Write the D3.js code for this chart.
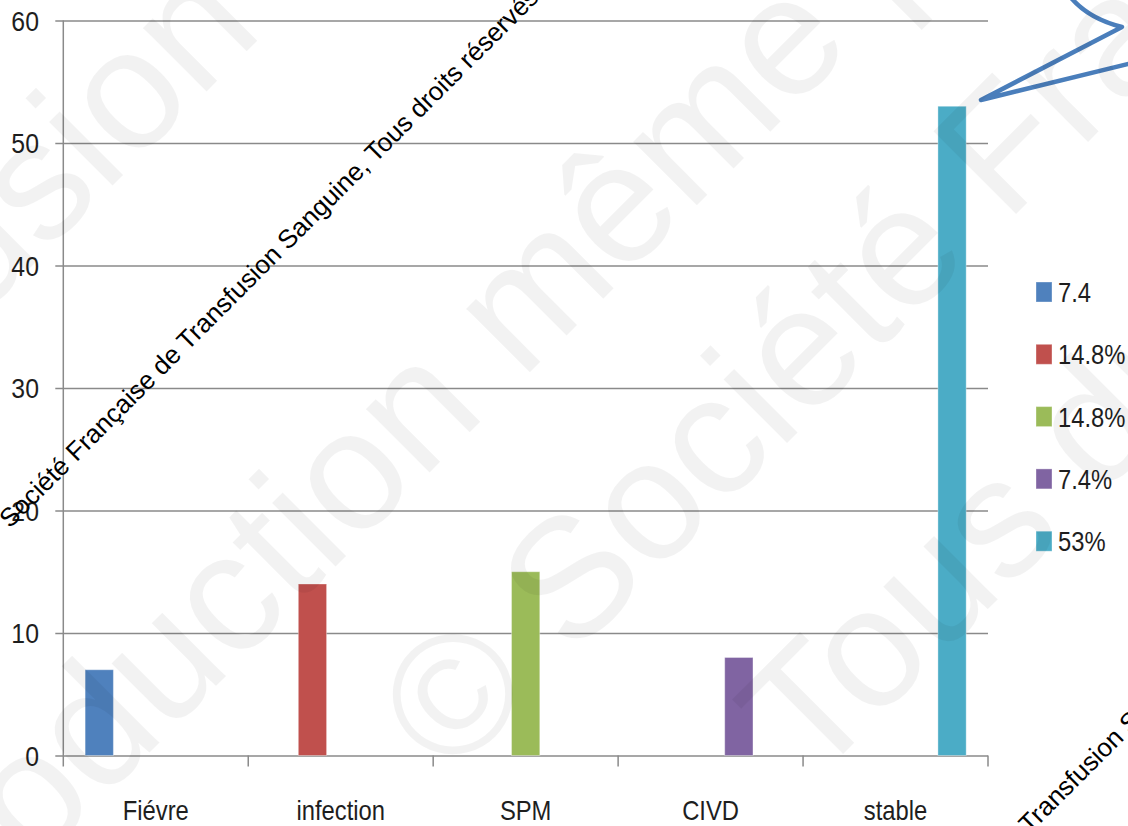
<!DOCTYPE html>
<html>
<head>
<meta charset="utf-8">
<script src="https://cdn.jsdelivr.net/npm/d3@7"></script>
<style>
  html, body { margin: 0; padding: 0; background: #fff; }
  svg { display: block; }
</style>
</head>
<body>
<svg id="chart" width="1128" height="826"></svg>
<script>
// Categories along the x axis
const categories = ["Fiévre", "infection", "SPM", "CIVD", "stable"];
// Legend entries (one series per category)
const seriesLabels = ["7.4", "14.8%", "14.8%", "7.4%", "53%"];
const seriesColors = ["#4f81bd", "#c0504d", "#9bbb59", "#8064a2", "#4bacc6"];
// Bar value of each category, drawn in the slot of its own series
const values = [7, 14, 15, 8, 53];
// Y axis ticks
const yTicks = [0, 10, 20, 30, 40, 50, 60];

const wmText = "Société Française de Transfusion Sanguine, Tous droits réservés";

const svg = d3.select("#chart");
const plot = { left: 63.3, right: 988, top: 20.5, bottom: 755.5 };

const x0 = d3.scaleBand().domain(categories).range([plot.left, plot.right]).padding(0);
const bw = x0.bandwidth();
const x1 = d3.scaleBand().domain(d3.range(seriesLabels.length))
  .range([bw * 0.118, bw * 0.882]).padding(0);
const y = d3.scaleLinear().domain([0, 60]).range([plot.bottom, plot.top]);

const gridColor = "#8a8a8a";
const labelFont = "'Liberation Sans', Arial, sans-serif";
const textColor = "#1e1e1e";

// Horizontal gridlines with left tick marks
const yAxis = d3.axisLeft(y).tickValues(yTicks).tickSize(-(plot.right - plot.left)).tickSizeOuter(0).tickFormat(() => "");
const gy = svg.append("g").attr("transform", `translate(${plot.left},0)`).call(yAxis);
gy.select(".domain").remove();
gy.selectAll(".tick line").attr("stroke", gridColor).attr("stroke-width", 1.5).attr("x1", -8);

// Y tick labels
svg.append("g").selectAll("g").data(yTicks).join("g")
  .attr("transform", d => `translate(39,${y(d) + 10})`)
  .append("text")
  .attr("transform", "scale(0.92,1)")
  .attr("text-anchor", "end")
  .attr("font-family", labelFont).attr("font-size", 27).attr("fill", textColor)
  .text(d => d);

// Vertical axis line
svg.append("line")
  .attr("x1", plot.left).attr("x2", plot.left)
  .attr("y1", plot.top).attr("y2", plot.bottom + 11)
  .attr("stroke", gridColor).attr("stroke-width", 1.5);

// Category boundary ticks on the x axis
const bounds = categories.map(c => x0(c)).concat([x0(categories[categories.length - 1]) + bw]);
svg.append("g").selectAll("line").data(bounds.slice(1)).join("line")
  .attr("x1", d => d).attr("x2", d => d)
  .attr("y1", plot.bottom).attr("y2", plot.bottom + 11)
  .attr("stroke", gridColor).attr("stroke-width", 1.5);

// Bars
svg.append("g").selectAll("rect").data(values).join("rect")
  .attr("x", (d, i) => x0(categories[i]) + x1(i))
  .attr("width", x1.bandwidth())
  .attr("y", d => y(d))
  .attr("height", d => y(0) - y(d))
  .attr("fill", (d, i) => seriesColors[i])
  .attr("stroke", "rgba(255,255,255,0.35)").attr("stroke-width", 1);

// Category labels
svg.append("g").selectAll("g").data(categories).join("g")
  .attr("transform", d => `translate(${x0(d) + bw / 2},820)`)
  .append("text")
  .attr("transform", "scale(0.85,1)")
  .attr("text-anchor", "middle")
  .attr("font-family", labelFont).attr("font-size", 28).attr("fill", textColor)
  .text(d => d);

// Legend
const leg = svg.append("g").selectAll("g").data(seriesLabels).join("g")
  .attr("transform", (d, i) => `translate(1036,${282 + i * 62.3})`);
leg.append("rect").attr("width", 16).attr("height", 20)
  .attr("fill", (d, i) => seriesColors[i])
  .attr("stroke", "rgba(255,255,255,0.35)").attr("stroke-width", 1);
leg.append("text")
  .attr("transform", "translate(22,20) scale(0.85,1)")
  .attr("font-family", labelFont).attr("font-size", 28).attr("fill", textColor)
  .text(d => d);

// Speech-bubble callout pointing at the last bar
svg.append("path")
  .attr("d", "M1068,-6 Q1086,18 1122,27 L981,100 L1140,61")
  .attr("fill", "none").attr("stroke", "#4a7ebb").attr("stroke-width", 4.5)
  .attr("stroke-linejoin", "round").attr("stroke-linecap", "round");

// Large pale diagonal watermark
const bigLines = [
  { t: "© Société Française de Transfusion Sanguine", x: -1641, y: 1939 },
  { t: "Reproduction même partielle interdite", x: -227, y: 1129 },
  { t: "© Société Française de Transfusion Sanguine", x: 450, y: 780 },
  { t: "Tous droits réservés", x: 812, y: 785 }
];
svg.append("g").selectAll("text").data(bigLines).join("text")
  .attr("transform", d => `translate(${d.x},${d.y}) rotate(-45)`)
  .attr("font-family", labelFont).attr("font-size", 170)
  .attr("fill", "#000").attr("fill-opacity", 0.05)
  .text(d => d.t);

// Small black diagonal copyright lines
const smallLines = [{ x: 10, y: 529 }, { x: 852, y: 1012 }];
svg.append("g").selectAll("text").data(smallLines).join("text")
  .attr("transform", d => `translate(${d.x},${d.y}) rotate(-45)`)
  .attr("font-family", labelFont).attr("font-size", 26).attr("fill", "#000")
  .text(wmText);
</script>
</body>
</html>
